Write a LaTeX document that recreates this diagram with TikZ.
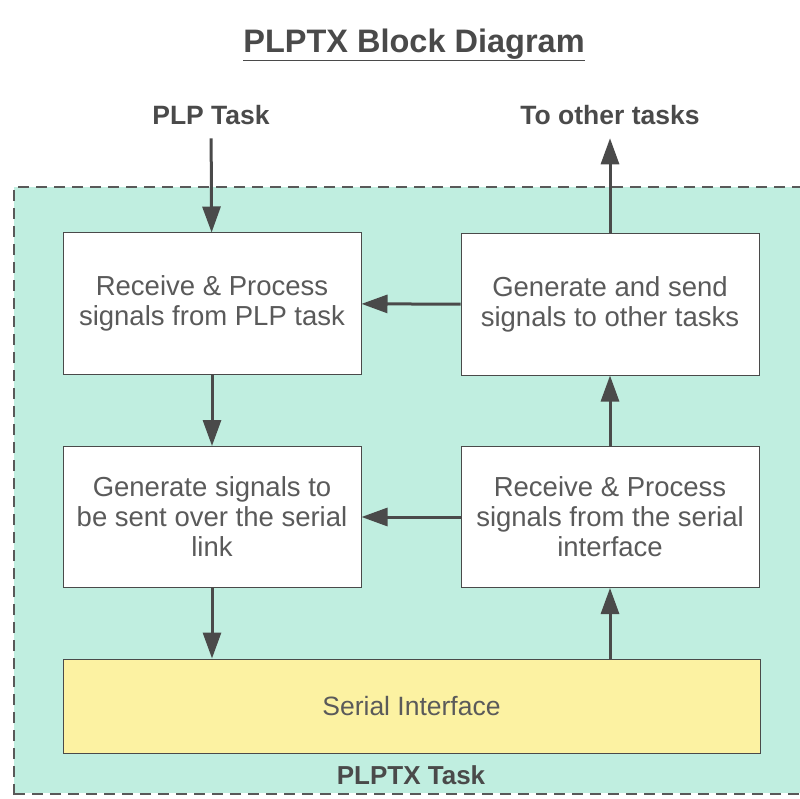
\documentclass[tikz,border=0pt]{standalone}
\usepackage{fontspec}
\setmainfont{Liberation Sans}
\usepackage{tikz}
\usetikzlibrary{arrows.meta}
\definecolor{taskbg}{HTML}{C0EEE0}
\definecolor{serialbg}{HTML}{FCF2A2}
\definecolor{inkgray}{HTML}{4A4A4A}
\definecolor{txtgray}{HTML}{5A5A5A}

\begin{document}
\begin{tikzpicture}[x=1pt,y=-1pt,
    block/.style={draw=inkgray,line width=1pt,fill=white,minimum width=298pt,minimum height=141pt,
      align=center,text=txtgray,font=\fontsize{27.5}{30}\selectfont},
    outlabel/.style={text=inkgray,font=\fontsize{26.5}{30}\selectfont\bfseries},
    sigarrow/.style={draw=inkgray,line width=3pt,-{Triangle[length=26pt,width=18pt]}}]
  \useasboundingbox (0,0) rectangle (800,799);
  % PLPTX task frame
  \fill[taskbg] (14,187) rectangle (812,793);
  \draw[gray!70!black,line width=1.5pt,dash pattern=on 11pt off 7pt] (14,795) -- (14,187) -- (812,187);
  \draw[gray!70!black,line width=1.5pt,dash pattern=on 11pt off 7pt] (14,794) -- (812,794);
  \node[text=inkgray,font=\fontsize{32.5}{36}\selectfont\bfseries] (title) at (414,45) {\underline{PLPTX Block Diagram}};
  \node[outlabel] (plp) at (211,115) {PLP Task};
  \node[outlabel] (other) at (610,115) {To other tasks};
  \node[block] (recvplp) at (212,303.5) {Receive \& Process\\signals from PLP task};
  \node[block] (sendsig) at (610,304.5) {Generate and send\\signals to other tasks};
  \node[block] (gensig) at (212,517) {Generate signals to\\be sent over the serial\\link};
  \node[block] (recvser) at (610,517) {Receive \& Process\\signals from the serial\\interface};
  \node[draw=inkgray,line width=1pt,fill=serialbg,minimum width=697pt,minimum height=94pt,
    text=txtgray,font=\fontsize{26.5}{30}\selectfont] (serial) at (411.5,706) {Serial Interface};
  \node[text=inkgray,font=\fontsize{26}{30}\selectfont\bfseries] (tasklbl) at (411,775) {PLPTX Task};
  % signal flow
  \draw[sigarrow,shorten <=10pt] (plp) -- (recvplp);
  \draw[sigarrow,shorten >=10pt] (sendsig) -- (other);
  \draw[sigarrow] (sendsig) -- (recvplp);
  \draw[sigarrow] (recvser) -- (gensig);
  \draw[sigarrow] (recvplp) -- (gensig);
  \draw[sigarrow] (recvser) -- (sendsig);
  \draw[sigarrow] (gensig) -- (gensig |- serial.north);
  \draw[sigarrow] (serial.north -| recvser) -- (recvser);
\end{tikzpicture}
\end{document}
